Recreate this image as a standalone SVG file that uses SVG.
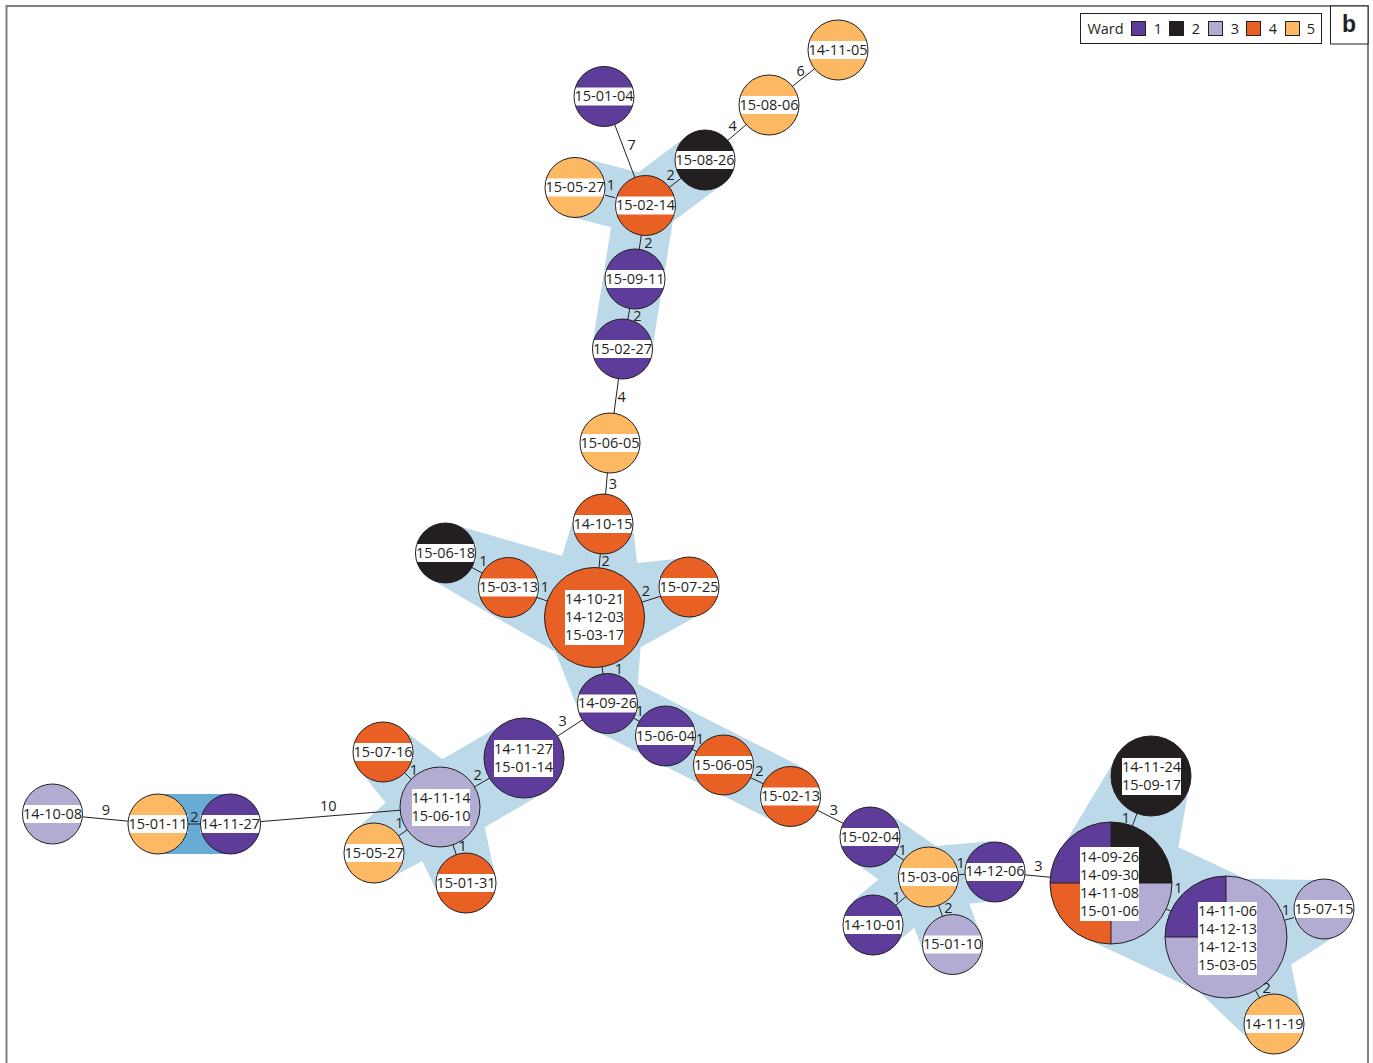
<svg xmlns="http://www.w3.org/2000/svg" width="1373" height="1063" viewBox="0 0 1373 1063">
<style>
.t{font-family:"Open Sans","Liberation Sans",sans-serif;font-size:14.5px;fill:#231f20;text-anchor:middle;dominant-baseline:central;transform:translateY(-1px)}
.hull{fill:#bcd9ea}
.hull2{fill:#67acd5}
.edges line{stroke:#231f20;stroke-width:1}
.ol{fill:none;stroke:#231f20;stroke-width:1}
.lb{fill:#fff}
.c1{fill:#5e3c99}.c2{fill:#231f20}.c3{fill:#b2abd2}.c4{fill:#e86024}.c5{fill:#fdb863}
.frame{stroke:#808080;stroke-width:2;fill:none}
.sq{stroke:#231f20;stroke-width:1}
</style>
<rect width="1373" height="1063" fill="#fff"/>
<path class="frame" d="M6.5,1063 V6 H1368 V1063"/>
<g id="hulls">
<polygon class="hull" points="582.5,158 652.5,176 637.5,234 567.5,216"/>
<polygon class="hull" points="627,181 687,136 723,184 663,229"/>
<polygon class="hull" points="615.4,200.3 674.6,209.7 651.6,353.7 592.4,344.3"/>
<polygon class="hull" points="544.2,612.2 573.1,520.2 632.9,525.9 643.8,621.8"/>
<polygon class="hull" points="578.9,569.3 680,558.4 698,615.6 609.1,664.7"/>
<polygon class="hull" points="613.8,571 456.9,525.4 433.2,580.6 574.3,663"/>
<polygon class="hull" points="643.5,609.5 636.7,698.5 577.3,707.5 544.6,624.5"/>
<polygon class="hull" points="620.6,675 803.6,768 776.4,822.7 593.4,729.7"/>
<polygon class="hull" points="945,852.3 887,812.3 853,861.7 911,901.7"/>
<polygon class="hull" points="925.3,847.1 992.3,841.1 997.7,900.9 930.7,906.9"/>
<polygon class="hull" points="947.3,900 891.3,947 852.7,901 908.7,854"/>
<polygon class="hull" points="956.2,866.9 980.2,933.9 923.8,954.1 899.8,887.1"/>
<polygon class="hull" points="1188.5,790 1168.2,904.4 1053.8,861.6 1113.5,762"/>
<polygon class="hull" points="1136.9,827.8 1251.9,881.8 1200.1,992.2 1085.1,938.2"/>
<polygon class="hull" points="1209.2,878.3 1315.8,880.1 1332.3,937.9 1242.8,995.7"/>
<polygon class="hull" points="1279.4,907.5 1300.3,1009.5 1247.8,1038.5 1172.6,966.5"/>
<polygon class="hull" points="467.8,778.2 403.8,730.4 362.2,773.6 412.2,835.8"/>
<polygon class="hull" points="460.2,841.6 544.2,792.6 503.8,723.4 419.8,772.4"/>
<polygon class="hull" points="462.9,839.8 391.2,877.6 356.8,828.4 417.1,774.2"/>
<polygon class="hull" points="477.8,794 494.4,873.3 437.6,892.7 402.2,820"/>
<rect class="hull2" x="158" y="794" width="72.5" height="60"/>
</g>
<g id="edges" class="edges">
<line x1="838" y1="50" x2="769" y2="105"/>
<line x1="769" y1="105" x2="705" y2="160"/>
<line x1="705" y1="160" x2="645.5" y2="205.5"/>
<line x1="604" y1="96.5" x2="645.5" y2="205.5"/>
<line x1="575" y1="187.5" x2="645.5" y2="205.5"/>
<line x1="645.5" y1="205.5" x2="635" y2="279"/>
<line x1="635" y1="279" x2="622.5" y2="349"/>
<line x1="622.5" y1="349" x2="610" y2="443"/>
<line x1="610" y1="443" x2="603" y2="524"/>
<line x1="603" y1="524" x2="594.5" y2="617.5"/>
<line x1="445.5" y1="553" x2="508.5" y2="587.5"/>
<line x1="508.5" y1="587.5" x2="594.5" y2="617.5"/>
<line x1="594.5" y1="617.5" x2="689" y2="587"/>
<line x1="594.5" y1="617.5" x2="607.5" y2="703.5"/>
<line x1="607.5" y1="703.5" x2="665.5" y2="736"/>
<line x1="665.5" y1="736" x2="723.5" y2="765"/>
<line x1="723.5" y1="765" x2="790.5" y2="796.5"/>
<line x1="790.5" y1="796.5" x2="870" y2="837"/>
<line x1="870" y1="837" x2="928.5" y2="877"/>
<line x1="928.5" y1="877" x2="995" y2="872"/>
<line x1="928.5" y1="877" x2="873" y2="925"/>
<line x1="928.5" y1="877" x2="952.5" y2="944.5"/>
<line x1="995" y1="872" x2="1111" y2="883"/>
<line x1="1111" y1="883" x2="1151" y2="776"/>
<line x1="1111" y1="883" x2="1226" y2="937"/>
<line x1="1226" y1="937" x2="1324" y2="909"/>
<line x1="1226" y1="937" x2="1274" y2="1024"/>
<line x1="607.5" y1="703.5" x2="524" y2="758"/>
<line x1="524" y1="758" x2="440" y2="807"/>
<line x1="383" y1="752" x2="440" y2="807"/>
<line x1="374" y1="853" x2="440" y2="807"/>
<line x1="466" y1="883" x2="440" y2="807"/>
<line x1="230.5" y1="824" x2="440" y2="807"/>
<line x1="52.5" y1="814" x2="158" y2="824"/>
<line x1="158" y1="824" x2="230.5" y2="824"/>
</g>
<g id="nodes">
<g id="n01"><circle class="c5" cx="838" cy="50" r="30"/><rect class="lb" x="808" y="41" width="60" height="18"/><text class="t" x="838" y="50">14-11-05</text><circle class="ol" cx="838" cy="50" r="30"/></g>
<g id="n02"><circle class="c5" cx="769" cy="105" r="30"/><rect class="lb" x="739" y="96" width="60" height="18"/><text class="t" x="769" y="105">15-08-06</text><circle class="ol" cx="769" cy="105" r="30"/></g>
<g id="n03"><circle class="c2" cx="705" cy="160" r="30"/><rect class="lb" x="675" y="151" width="60" height="18"/><text class="t" x="705" y="160">15-08-26</text><circle class="ol" cx="705" cy="160" r="30"/></g>
<g id="n04"><circle class="c1" cx="604" cy="96.5" r="30"/><rect class="lb" x="574" y="87.5" width="60" height="18"/><text class="t" x="604" y="96.5">15-01-04</text><circle class="ol" cx="604" cy="96.5" r="30"/></g>
<g id="n05"><circle class="c5" cx="575" cy="187.5" r="30"/><rect class="lb" x="545" y="178.5" width="60" height="18"/><text class="t" x="575" y="187.5">15-05-27</text><circle class="ol" cx="575" cy="187.5" r="30"/></g>
<g id="n06"><circle class="c4" cx="645.5" cy="205.5" r="30"/><rect class="lb" x="615.5" y="196.5" width="60" height="18"/><text class="t" x="645.5" y="205.5">15-02-14</text><circle class="ol" cx="645.5" cy="205.5" r="30"/></g>
<g id="n07"><circle class="c1" cx="635" cy="279" r="30"/><rect class="lb" x="605" y="270" width="60" height="18"/><text class="t" x="635" y="279">15-09-11</text><circle class="ol" cx="635" cy="279" r="30"/></g>
<g id="n08"><circle class="c1" cx="622.5" cy="349" r="30"/><rect class="lb" x="592.5" y="340" width="60" height="18"/><text class="t" x="622.5" y="349">15-02-27</text><circle class="ol" cx="622.5" cy="349" r="30"/></g>
<g id="n09"><circle class="c5" cx="610" cy="443" r="30"/><rect class="lb" x="580" y="434" width="60" height="18"/><text class="t" x="610" y="443">15-06-05</text><circle class="ol" cx="610" cy="443" r="30"/></g>
<g id="n10"><circle class="c4" cx="603" cy="524" r="30"/><rect class="lb" x="573" y="515" width="60" height="18"/><text class="t" x="603" y="524">14-10-15</text><circle class="ol" cx="603" cy="524" r="30"/></g>
<g id="n11"><circle class="c2" cx="445.5" cy="553" r="30"/><rect class="lb" x="415.5" y="544" width="60" height="18"/><text class="t" x="445.5" y="553">15-06-18</text><circle class="ol" cx="445.5" cy="553" r="30"/></g>
<g id="n12"><circle class="c4" cx="508.5" cy="587.5" r="30"/><rect class="lb" x="478.5" y="578.5" width="60" height="18"/><text class="t" x="508.5" y="587.5">15-03-13</text><circle class="ol" cx="508.5" cy="587.5" r="30"/></g>
<g id="n13"><circle class="c4" cx="594.5" cy="617.5" r="50"/><rect class="lb" x="565" y="590" width="59" height="55"/><text class="t" x="594.5" y="599">14-10-21</text><text class="t" x="594.5" y="617">14-12-03</text><text class="t" x="594.5" y="635">15-03-17</text><circle class="ol" cx="594.5" cy="617.5" r="50"/></g>
<g id="n14"><circle class="c4" cx="689" cy="587" r="30"/><rect class="lb" x="659" y="578" width="60" height="18"/><text class="t" x="689" y="587">15-07-25</text><circle class="ol" cx="689" cy="587" r="30"/></g>
<g id="n15"><circle class="c1" cx="607.5" cy="703.5" r="30"/><rect class="lb" x="577.5" y="694.5" width="60" height="18"/><text class="t" x="607.5" y="703.5">14-09-26</text><circle class="ol" cx="607.5" cy="703.5" r="30"/></g>
<g id="n16"><circle class="c1" cx="665.5" cy="736" r="30"/><rect class="lb" x="635.5" y="727" width="60" height="18"/><text class="t" x="665.5" y="736">15-06-04</text><circle class="ol" cx="665.5" cy="736" r="30"/></g>
<g id="n17"><circle class="c4" cx="723.5" cy="765" r="30"/><rect class="lb" x="693.5" y="756" width="60" height="18"/><text class="t" x="723.5" y="765">15-06-05</text><circle class="ol" cx="723.5" cy="765" r="30"/></g>
<g id="n18"><circle class="c4" cx="790.5" cy="796.5" r="30"/><rect class="lb" x="760.5" y="787.5" width="60" height="18"/><text class="t" x="790.5" y="796.5">15-02-13</text><circle class="ol" cx="790.5" cy="796.5" r="30"/></g>
<g id="n19"><circle class="c1" cx="870" cy="837" r="30"/><rect class="lb" x="840" y="828" width="60" height="18"/><text class="t" x="870" y="837">15-02-04</text><circle class="ol" cx="870" cy="837" r="30"/></g>
<g id="n20"><circle class="c5" cx="928.5" cy="877" r="30"/><rect class="lb" x="898.5" y="868" width="60" height="18"/><text class="t" x="928.5" y="877">15-03-06</text><circle class="ol" cx="928.5" cy="877" r="30"/></g>
<g id="n21"><circle class="c1" cx="995" cy="872" r="30"/><rect class="lb" x="965" y="863" width="60" height="18"/><text class="t" x="995" y="871.5">14-12-06</text><circle class="ol" cx="995" cy="872" r="30"/></g>
<g id="n22"><circle class="c1" cx="873" cy="925" r="30"/><rect class="lb" x="843" y="916" width="60" height="18"/><text class="t" x="873" y="925">14-10-01</text><circle class="ol" cx="873" cy="925" r="30"/></g>
<g id="n23"><circle class="c3" cx="952.5" cy="944.5" r="30"/><rect class="lb" x="922.5" y="935.5" width="60" height="18"/><text class="t" x="952.5" y="944.5">15-01-10</text><circle class="ol" cx="952.5" cy="944.5" r="30"/></g>
<g id="n24">
<path class="c1" d="M1111,883 H1050 A61,61 0 0 1 1111,822 Z"/>
<path class="c2" d="M1111,883 V822 A61,61 0 0 1 1172,883 Z"/>
<path class="c3" d="M1111,883 H1172 A61,61 0 0 1 1111,944 Z"/>
<path class="c4" d="M1111,883 V944 A61,61 0 0 1 1050,883 Z"/>
<path class="ol" d="M1050,883 H1172 M1111,822 V944"/>
<rect class="lb" x="1080" y="847" width="59" height="74"/>
<text class="t" x="1109.5" y="857">14-09-26</text><text class="t" x="1109.5" y="875">14-09-30</text><text class="t" x="1109.5" y="893">14-11-08</text><text class="t" x="1109.5" y="911">15-01-06</text>
<circle class="ol" cx="1111" cy="883" r="61"/></g>
<g id="n25"><circle class="c2" cx="1151" cy="776" r="40"/><rect class="lb" x="1122" y="758" width="59" height="37"/><text class="t" x="1151.5" y="767">14-11-24</text><text class="t" x="1151.5" y="785">15-09-17</text><circle class="ol" cx="1151" cy="776" r="40"/></g>
<g id="n26">
<circle class="c3" cx="1226" cy="937" r="61"/>
<path class="c1" d="M1226,937 H1165 A61,61 0 0 1 1226,876 Z"/>
<path class="ol" d="M1165,937 H1226 V876"/>
<rect class="lb" x="1198" y="902" width="59" height="73"/>
<text class="t" x="1227.5" y="911">14-11-06</text><text class="t" x="1227.5" y="929">14-12-13</text><text class="t" x="1227.5" y="947">14-12-13</text><text class="t" x="1227.5" y="965">15-03-05</text>
<circle class="ol" cx="1226" cy="937" r="61"/></g>
<g id="n27"><circle class="c3" cx="1324" cy="909" r="30"/><rect class="lb" x="1294" y="900" width="60" height="18"/><text class="t" x="1324" y="909">15-07-15</text><circle class="ol" cx="1324" cy="909" r="30"/></g>
<g id="n28"><circle class="c5" cx="1274" cy="1024" r="30"/><rect class="lb" x="1244" y="1015" width="60" height="18"/><text class="t" x="1274" y="1024">14-11-19</text><circle class="ol" cx="1274" cy="1024" r="30"/></g>
<g id="n29"><circle class="c1" cx="524" cy="758" r="40"/><rect class="lb" x="494" y="740" width="59" height="37"/><text class="t" x="523.5" y="749">14-11-27</text><text class="t" x="523.5" y="767">15-01-14</text><circle class="ol" cx="524" cy="758" r="40"/></g>
<g id="n30"><circle class="c3" cx="440" cy="807" r="40"/><rect class="lb" x="412" y="789" width="58" height="37"/><text class="t" x="441" y="798">14-11-14</text><text class="t" x="441" y="816">15-06-10</text><circle class="ol" cx="440" cy="807" r="40"/></g>
<g id="n31"><circle class="c4" cx="383" cy="752" r="30"/><rect class="lb" x="353" y="743" width="60" height="18"/><text class="t" x="383" y="752">15-07-16</text><circle class="ol" cx="383" cy="752" r="30"/></g>
<g id="n32"><circle class="c5" cx="374" cy="853" r="30"/><rect class="lb" x="344" y="844" width="60" height="18"/><text class="t" x="374" y="853">15-05-27</text><circle class="ol" cx="374" cy="853" r="30"/></g>
<g id="n33"><circle class="c4" cx="466" cy="883" r="30"/><rect class="lb" x="436" y="874" width="60" height="18"/><text class="t" x="466" y="883">15-01-31</text><circle class="ol" cx="466" cy="883" r="30"/></g>
<g id="n34"><circle class="c1" cx="230.5" cy="824" r="30"/><rect class="lb" x="200.5" y="815" width="60" height="18"/><text class="t" x="230.5" y="824">14-11-27</text><circle class="ol" cx="230.5" cy="824" r="30"/></g>
<g id="n35"><circle class="c5" cx="158" cy="824" r="30"/><rect class="lb" x="128" y="815" width="60" height="18"/><text class="t" x="158" y="824">15-01-11</text><circle class="ol" cx="158" cy="824" r="30"/></g>
<g id="n36"><circle class="c3" cx="52.5" cy="814" r="30"/><rect class="lb" x="22.5" y="805" width="60" height="18"/><text class="t" x="52.5" y="814">14-10-08</text><circle class="ol" cx="52.5" cy="814" r="30"/></g>
</g>
<g id="edge-labels">
<text class="t" x="800.7" y="71.7">6</text>
<text class="t" x="732.7" y="126.7">4</text>
<text class="t" x="670.7" y="175.7">2</text>
<text class="t" x="631.7" y="145">7</text>
<text class="t" x="611" y="185">1</text>
<text class="t" x="648.3" y="243.3">2</text>
<text class="t" x="637.3" y="316">2</text>
<text class="t" x="621.7" y="397.3">4</text>
<text class="t" x="613" y="484">3</text>
<text class="t" x="605.7" y="561.7">2</text>
<text class="t" x="483.3" y="561.7">1</text>
<text class="t" x="545" y="587.7">1</text>
<text class="t" x="646" y="591.7">2</text>
<text class="t" x="619" y="669.3">1</text>
<text class="t" x="640" y="711">1</text>
<text class="t" x="700" y="739">1</text>
<text class="t" x="759.3" y="771.7">2</text>
<text class="t" x="834" y="810">3</text>
<text class="t" x="902.7" y="850">1</text>
<text class="t" x="960.7" y="863.3">1</text>
<text class="t" x="896.7" y="897.3">1</text>
<text class="t" x="948.3" y="908.3">2</text>
<text class="t" x="1038.3" y="866.7">3</text>
<text class="t" x="1126" y="818.3">1</text>
<text class="t" x="1178.3" y="888.3">1</text>
<text class="t" x="1286" y="910">1</text>
<text class="t" x="1266.7" y="988.3">2</text>
<text class="t" x="562.7" y="721">3</text>
<text class="t" x="414" y="770">1</text>
<text class="t" x="477.7" y="775">2</text>
<text class="t" x="399.3" y="823.3">1</text>
<text class="t" x="462.7" y="846.7">1</text>
<text class="t" x="106" y="810">9</text>
<text class="t" x="194.3" y="817.3">2</text>
<text class="t" x="328.3" y="806.7">10</text>
</g>
<g id="legend">
<rect x="1080.5" y="13.5" width="241" height="30" fill="#fff" stroke="#231f20" stroke-width="1"/>
<text class="t" x="1105.5" y="29">Ward</text>
<rect class="sq c1" x="1131.5" y="21.5" width="14" height="14"/>
<text class="t" x="1158" y="29">1</text>
<rect class="sq c2" x="1169.5" y="21.5" width="14" height="14"/>
<text class="t" x="1196" y="29">2</text>
<rect class="sq c3" x="1208.5" y="21.5" width="14" height="14"/>
<text class="t" x="1235" y="29">3</text>
<rect class="sq c4" x="1246.5" y="21.5" width="14" height="14"/>
<text class="t" x="1273" y="29">4</text>
<rect class="sq c5" x="1285.5" y="21.5" width="14" height="14"/>
<text class="t" x="1311" y="29">5</text>
</g>
<g id="panel-label">
<rect x="1330.5" y="6" width="37.5" height="38" fill="#fff" stroke="#231f20" stroke-width="1"/>
<text x="1349" y="24" font-family="'Liberation Sans',Arial,sans-serif" font-size="23" font-weight="bold" fill="#231f20" text-anchor="middle" dominant-baseline="central">b</text>
</g>
</svg>
